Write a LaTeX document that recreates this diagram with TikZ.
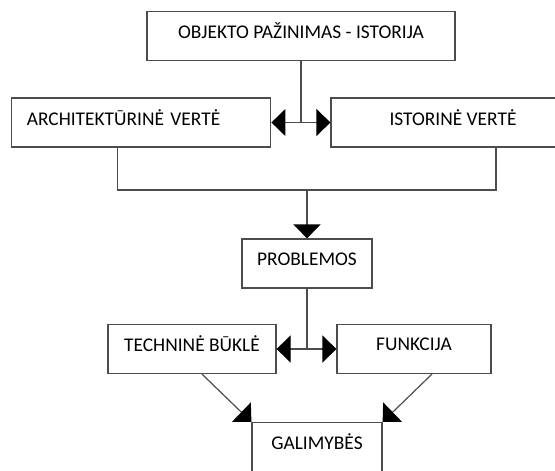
\documentclass[tikz,border=0pt]{standalone}
\usepackage{fontspec}
\setmainfont{Carlito}
\usetikzlibrary{arrows.meta,positioning}
\definecolor{linija}{rgb}{0.30, 0.30, 0.30}
\definecolor{tekstas}{rgb}{0.0, 0.0, 0.0}
\tikzset{
  blokas/.style={draw=linija, line width=0.6pt, fill=white, inner sep=0pt,
    text=tekstas, font=\fontsize{9.7pt}{11pt}\selectfont,
    text height=7pt, text depth=4.3pt, minimum height=24.5pt},
  jungtis/.style={draw=linija, line width=0.6pt},
  rodykle/.style={-{Triangle[width=13.5pt,length=7pt,color=black]}},
  abirodykle/.style={{Triangle[width=13.5pt,length=7pt,color=black]}-{Triangle[width=13.5pt,length=7pt,color=black]}}
}
\begin{document}
\begin{tikzpicture}[x=0.5pt,y=-0.5pt]
\clip (0,0) rectangle (555,470);
% blokai
\node[blokas, minimum width=154pt] (objektas) at (301,36) {OBJEKTO PAŽINIMAS - ISTORIJA};
\node[blokas, text width=114.5pt, inner xsep=7.5pt, align=left] (architektura) at (141.3,122.5) {ARCHITEKTŪRINĖ VERTĖ};
\node[blokas, minimum width=122pt] (istorija) at (453,122.5) {ISTORINĖ VERTĖ};
\node[blokas, minimum width=65pt, text depth=5.5pt] (problemos) at (307,263.5) {PROBLEMOS};
\node[blokas, minimum width=84pt] (bukle) at (192,349) {TECHNINĖ BŪKLĖ};
\node[blokas, minimum width=77pt, text depth=5.5pt] (funkcija) at (414,349) {FUNKCIJA};
\node[blokas, minimum width=65pt] (galimybes) at (317,447) {GALIMYBĖS};
\coordinate (jungimas) at (307,190);
% jungtys
\draw[jungtis] (objektas.south) -- (objektas.south |- architektura.east);
\draw[jungtis, abirodykle] (architektura.east) -- (istorija.west);
\draw[jungtis] ([xshift=-12pt]architektura.south) |- (jungimas) -| ([xshift=21.5pt]istorija.south);
\draw[jungtis, rodykle] (jungimas) -- (problemos.north);
\draw[jungtis] (problemos.south) -- (problemos.south |- bukle.east);
\draw[jungtis, abirodykle] (bukle.east) -- (funkcija.west);
\draw[jungtis, rodykle] ([xshift=5pt]bukle.south) -- (galimybes.north west);
\draw[jungtis, rodykle] ([xshift=9pt]funkcija.south) -- (galimybes.north east);
\end{tikzpicture}
\end{document}
